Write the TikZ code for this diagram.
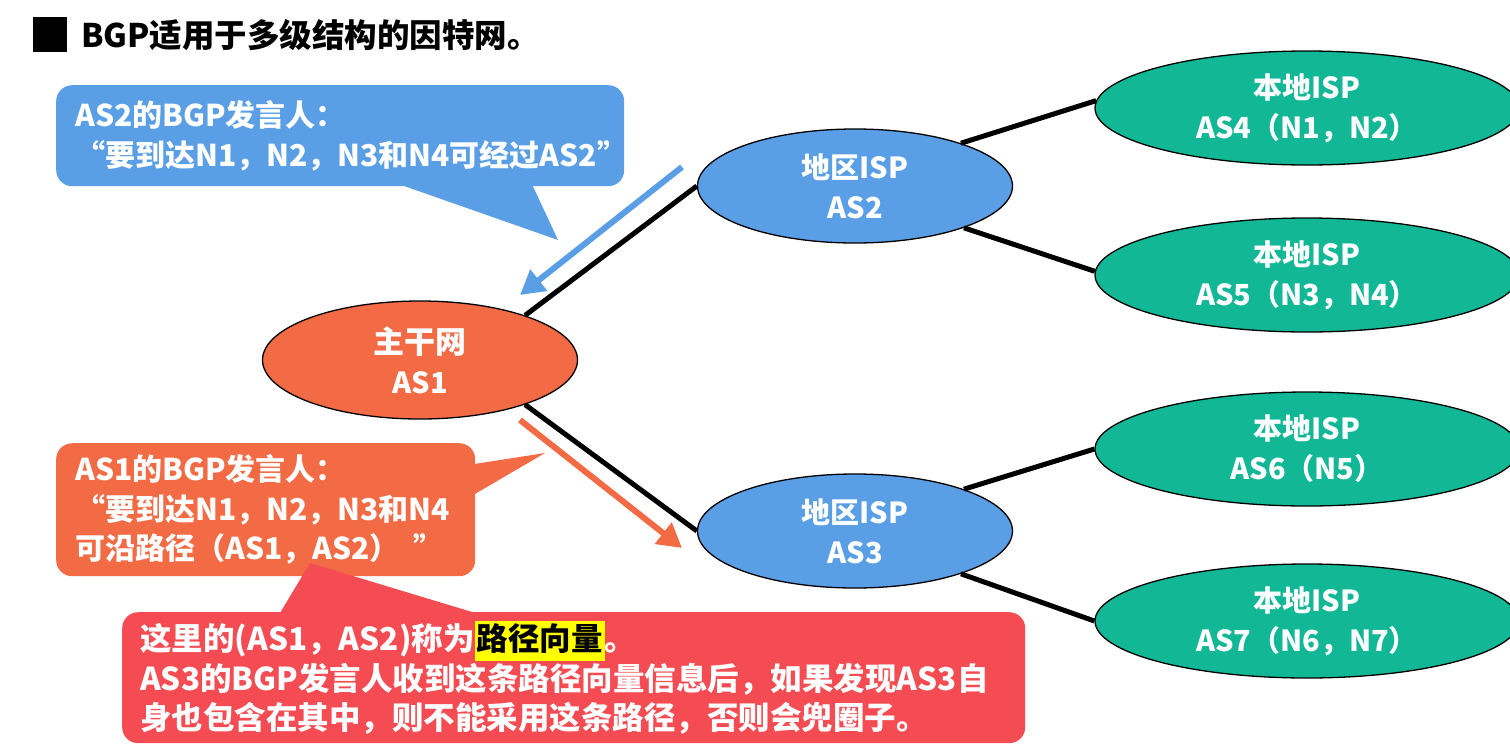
\documentclass[tikz,border=0pt]{standalone}
\usepackage{fontspec}
\setmainfont{Noto Sans CJK SC}
\usetikzlibrary{shapes.geometric,arrows.meta}
\definecolor{ispblue}{HTML}{5A9FE6}
\definecolor{coreorange}{HTML}{F26B45}
\definecolor{localteal}{HTML}{12B896}
\definecolor{notered}{HTML}{F54B52}
\definecolor{marker}{HTML}{FFFF00}
\newcommand{\fs}[2]{\fontsize{#1}{#2}\selectfont}
\newcommand{\hilite}[1]{{\setlength{\fboxsep}{2pt}\colorbox{marker}{\rule[-8pt]{0pt}{36pt}\color{black}#1}}}

\begin{document}
\begin{tikzpicture}[x=1pt,y=-1pt,
  net/.style={ellipse, draw=black, line width=1.3pt, text=white,
    font=\bfseries\fs{29}{40}, align=center, inner sep=0pt},
  core/.style={net, fill=coreorange, minimum width=315pt, minimum height=118pt},
  region/.style={net, fill=ispblue, minimum width=315pt, minimum height=114pt},
  local/.style={net, fill=localteal, minimum width=424pt, minimum height=114pt},
  link/.style={line width=5pt, black},
  flow/.style={line width=6pt, -{Triangle[length=24pt,width=26pt]}},
  balloon/.style={rectangle, rounded corners=16pt, text=white,
    font=\bfseries\fs{30}{39.5}, align=left, inner xsep=19pt, inner ysep=0pt,
    anchor=north west},
]
\useasboundingbox (0,0) rectangle (1510,745);

% heading
\node[fill=black, minimum width=34pt, minimum height=35pt, inner sep=0pt] (bullet) at (50,34.5) {};
\node[anchor=west, font=\bfseries\fs{32.5}{36}, inner sep=0pt] (heading) at (81,35) {BGP适用于多级结构的因特网。};

% autonomous systems
\node[core]   (as1) at (420,360)  {{\fs{31}{40}主干网}\\AS1};
\node[region] (as2) at (855,186)  {地区ISP\\AS2};
\node[region] (as3) at (855,531)  {地区ISP\\AS3};
\node[local]  (as4) at (1307,108) {本地ISP\\AS4（N1，N2）};
\node[local]  (as5) at (1307,275) {本地ISP\\AS5（N3，N4）};
\node[local]  (as6) at (1307,449) {本地ISP\\AS6（N5）};
\node[local]  (as7) at (1307,621) {本地ISP\\AS7（N6，N7）};

% links between the systems
\draw[link] (as1.23)  -- (as2.west);
\draw[link] (as1.-23) -- (as3.west);
\draw[link] (as2.22)  -- (as4.178);
\draw[link] (as2.-21) -- (as5.179);
\draw[link] (as3.21)  -- (as6.west);
\draw[link] (as3.-22) -- (as7.west);

% route announcements
\coordinate (b0) at (682,167);
\coordinate (b1) at (520,295);
\draw[flow, ispblue] (b0) -- (b1);
\coordinate (o0) at (520,420);
\coordinate (o1) at (682,548);
\draw[flow, coreorange] (o0) -- (o1);

% speech balloons
\node[balloon, fill=ispblue, minimum width=568pt, minimum height=101pt, text width=530pt]
  (say2) at (56,85) {AS2的BGP发言人：\\“要到达N1，N2，N3和N4可经过AS2”};
\fill[ispblue] (387,180) -- (558,240) -- (530,180) -- cycle;

\node[balloon, fill=coreorange, minimum width=419pt, minimum height=133pt, text width=381pt]
  (say1) at (56,443) {AS1的BGP发言人：\\“要到达N1，N2，N3和N4\\可沿路径（AS1，AS2）\hspace{14pt}”};
\fill[coreorange] (468,465) -- (545,453) -- (468,498) -- cycle;

\fill[notered] (277,618) -- (310,563) -- (492,618) -- cycle;
\node[balloon, fill=notered, minimum width=903pt, minimum height=131pt, text width=867pt,
  inner xsep=18pt, font=\bfseries\fs{31.5}{39.5}]
  (note) at (122,612) {这里的(AS1，AS2)称为\hilite{路径向量}。\\AS3的BGP发言人收到这条路径向量信息后，如果发现AS3自\\身也包含在其中，则不能采用这条路径，否则会兜圈子。};
\end{tikzpicture}
\end{document}
